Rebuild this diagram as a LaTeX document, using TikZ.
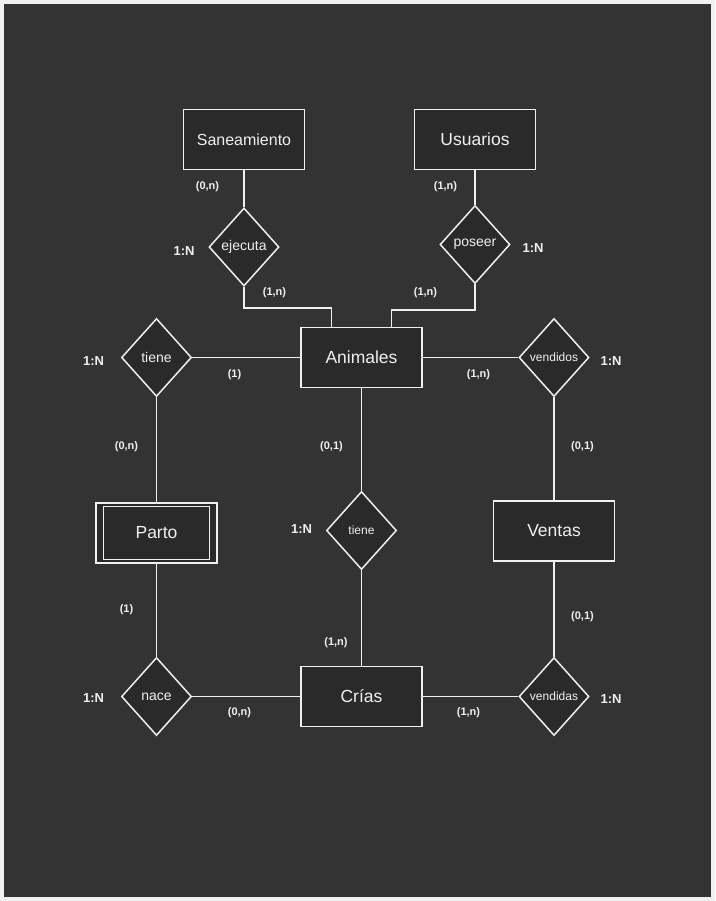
\documentclass[tikz,border=0pt]{standalone}
\usepackage{fontspec}
\setmainfont{Liberation Sans}
\usetikzlibrary{shapes.geometric}
\definecolor{bg}{HTML}{333333}
\definecolor{fg}{HTML}{F0F0F0}
\definecolor{box}{HTML}{2A2A2A}
\begin{document}
\begin{tikzpicture}[x=1pt,y=-1pt,
  ent/.style={draw=fg,fill=box,text=fg,line width=1.5pt,minimum width=121pt,minimum height=60pt,inner sep=0pt,font=\fontsize{17.5}{20}\selectfont},
  rel/.style={diamond,draw=fg,fill=box,text=fg,line width=1.5pt,minimum width=70pt,minimum height=78pt,inner sep=0pt,font=\fontsize{14}{16}\selectfont},
  card/.style={text=fg,inner sep=0pt,font=\fontsize{11}{13}\selectfont\bfseries},
  ratio/.style={text=fg,inner sep=0pt,font=\fontsize{13}{15}\selectfont\bfseries},
  link/.style={draw=fg,line width=1.5pt}]
  \fill[fg] (0,0) rectangle (715,901);
  \fill[bg] (4,4) rectangle (711,897);

  % entidades
  \node[ent,font=\fontsize{16}{18}\selectfont] (san) at (244,139.5) {Saneamiento};
  \node[ent] (usu) at (475,139.5) {Usuarios};
  \node[ent] (ani) at (361.5,357.5) {Animales};
  \node[ent] (par) at (156.5,533) {Parto};
  \draw[fg,line width=1pt] ([shift={(8,4.5)}]par.north west) rectangle ([shift={(-8,-4.5)}]par.south east);
  \node[ent] (ven) at (554,531) {Ventas};
  \node[ent] (cri) at (361.5,696.5) {Crías};

  % relaciones
  \node[rel] (eje) at (244,247) {ejecuta};
  \node[rel] (pos) at (475,244.5) {poseer};
  \node[rel] (tieA) at (156.5,357.5) {tiene};
  \node[rel,font=\fontsize{12}{14}\selectfont] (vdo) at (554,357.5) {vendidos};
  \node[rel,font=\fontsize{12}{14}\selectfont] (tieB) at (361.5,530.5) {tiene};
  \node[rel] (nac) at (156.5,696.5) {nace};
  \node[rel,font=\fontsize{12}{14}\selectfont] (vda) at (554,696.5) {vendidas};

  \draw[link] (san) -- (eje);
  \draw[link] (usu) -- (pos);
  \draw[link] (eje.south) -- ++(0,21) -| ([xshift=-30pt]ani.north);
  \draw[link] (pos.south) -- ++(0,25.5) -| ([xshift=30pt]ani.north);
  \draw[link] (tieA) -- (ani);
  \draw[link] (tieA) -- (par);
  \draw[link] (ani) -- (vdo);
  \draw[link] (vdo) -- (ven);
  \draw[link] (ani) -- (tieB);
  \draw[link] (tieB) -- (cri);
  \draw[link] (par) -- (nac);
  \draw[link] (nac) -- (cri);
  \draw[link] (cri) -- (vda);
  \draw[link] (ven) -- (vda);

  % cardinalidades
  \foreach \x/\y/\t [count=\i] in {207.5/187/{(0,n)},274.5/293/{(1,n)},445.5/187/{(1,n)},425.5/293/{(1,n)},
      234.5/375/{(1)},478.5/375/{(1,n)},126.5/447/{(0,n)},331.5/447/{(0,1)},582.5/447/{(0,1)},
      126.5/610/{(1)},336/643/{(1,n)},582.5/617/{(0,1)},239.5/713/{(0,n)},468.5/713/{(1,n)}}
    \node[card] (card\i) at (\x,\y) {\t};
  \foreach \x/\y [count=\i] in {184/251,533/248,93.5/361,611/361,301.5/529,93.5/698,611/699}
    \node[ratio] (ratio\i) at (\x,\y) {1:N};
\end{tikzpicture}
\end{document}
